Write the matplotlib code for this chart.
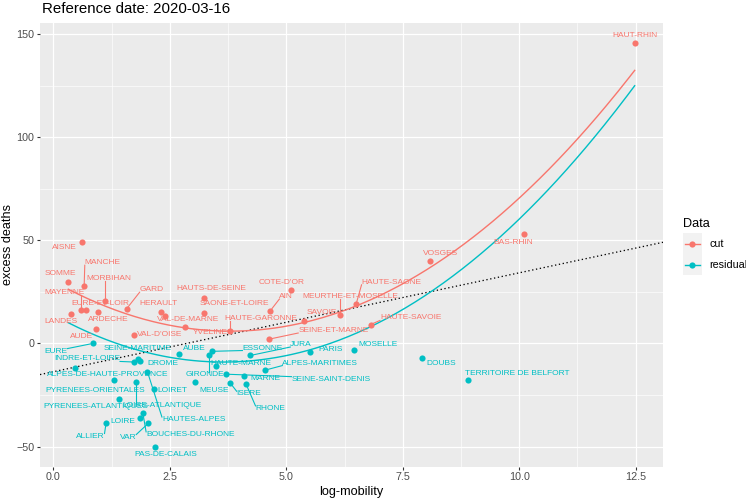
import matplotlib
matplotlib.use("Agg")
import matplotlib.pyplot as plt
import numpy as np
from matplotlib.lines import Line2D
from matplotlib.patches import Rectangle

plt.rcParams['font.family'] = ['Liberation Sans', 'DejaVu Sans']

# ---------------- data ----------------
title = "Reference date: 2020-03-16"
x_label = "log-mobility"
y_label = "excess deaths"
legend_title = "Data"
series_names = ["cut", "residual"]

cut_names = ["AISNE", "SOMME", "MANCHE", "MORBIHAN", "MAYENNE", "GARD", "EURE-ET-LOIR",
             "ARDECHE", "LANDES", "AUDE", "VAL-D'OISE", "HERAULT", "VAL-DE-MARNE", "YVELINES",
             "HAUTE-GARONNE", "HAUTS-DE-SEINE", "SAONE-ET-LOIRE", "COTE-D'OR", "AIN",
             "SEINE-ET-MARNE", "SAVOIE", "MEURTHE-ET-MOSELLE", "HAUTE-SAONE", "HAUTE-SAVOIE",
             "VOSGES", "BAS-RHIN", "HAUT-RHIN"]
cut_x = [0.61, 0.32, 0.66, 1.11, 0.60, 1.57, 0.70, 0.95, 0.38, 0.91, 1.72, 2.32, 2.40, 2.82,
         3.80, 3.24, 3.24, 5.11, 4.66, 4.63, 5.39, 6.16, 6.50, 6.81, 8.08, 10.10, 12.48]
cut_y = [49.1, 30.0, 27.9, 20.8, 16.1, 16.8, 16.1, 15.1, 14.1, 7.1, 4.0, 15.2, 13.2, 8.1,
         6.0, 21.9, 15.0, 25.8, 16.0, 2.1, 11.1, 14.0, 19.2, 9.2, 40.2, 53.1, 145.9]

res_names = ["EURE", "ALPES-DE-HAUTE-PROVENCE", "INDRE-ET-LOIRE", "SEINE-MARITIME", "DROME",
             "AUBE", "PYRENEES-ORIENTALES", "LOIRE-ATLANTIQUE", "HAUTES-ALPES", "LOIRET",
             "PYRENEES-ATLANTIQUES", "ALLIER", "LOIRE", "BOUCHES-DU-RHONE", "VAR",
             "PAS-DE-CALAIS", "MEUSE", "GIRONDE", "ESSONNE", "HAUTE-MARNE", "SEINE-SAINT-DENIS",
             "ISERE", "MARNE", "RHONE", "JURA", "ALPES-MARITIMES", "PARIS", "MOSELLE", "DOUBS",
             "TERRITOIRE DE BELFORT"]
res_x = [0.84, 0.46, 1.74, 1.81, 1.85, 2.69, 1.31, 1.77, 2.02, 2.15, 1.40, 1.13, 1.86, 1.92,
         2.04, 2.19, 3.04, 3.35, 3.41, 3.50, 3.71, 3.79, 4.10, 4.14, 4.23, 4.55, 5.51, 6.45,
         7.92, 8.90]
res_y = [0.0, -11.8, -9.0, -7.7, -8.6, -5.0, -17.8, -18.8, -13.8, -21.9, -26.8, -38.7, -36.0,
         -33.7, -38.7, -50.0, -18.8, -5.8, -3.8, -10.8, -14.9, -19.0, -15.8, -19.9, -5.8,
         -12.9, -3.9, -3.1, -6.9, -17.9]

# quadratic fit coefficients (highest power first)
cut_fit = [1.68, -12.77, 30.26]
res_fit = [1.72, -12.556, 13.915]
# reference straight line: intercept, slope
ref_intercept = -13.7
ref_slope = 4.8

x_ticks = [0.0, 2.5, 5.0, 7.5, 10.0, 12.5]
x_tick_labels = ["0.0", "2.5", "5.0", "7.5", "10.0", "12.5"]
y_ticks = [-50, 0, 50, 100, 150]
y_tick_labels = ["\u221250", "0", "50", "100", "150"]

# ---------------- layout (label placement, data units) ----------------
LABEL_POS = {
    "AISNE": (0.23, 46.6), "SOMME": (0.15, 33.9), "MANCHE": (1.06, 39.2),
    "MORBIHAN": (1.20, 31.5), "MAYENNE": (0.23, 24.8), "GARD": (2.11, 26.1),
    "EURE-ET-LOIR": (1.01, 19.4), "ARDECHE": (1.17, 11.6), "LANDES": (0.17, 10.7),
    "AUDE": (0.60, 3.5), "VAL-D'OISE": (2.28, 4.4), "HERAULT": (2.26, 19.5),
    "VAL-DE-MARNE": (2.90, 11.6), "YVELINES": (3.42, 5.3), "HAUTE-GARONNE": (4.45, 12.1),
    "HAUTS-DE-SEINE": (3.40, 26.6), "SAONE-ET-LOIRE": (3.88, 19.4), "COTE-D'OR": (4.89, 29.5),
    "AIN": (5.00, 22.8), "SEINE-ET-MARNE": (6.01, 6.3), "SAVOIE": (5.76, 15.2),
    "MEURTHE-ET-MOSELLE": (6.38, 22.9), "HAUTE-SAONE": (7.26, 29.7),
    "HAUTE-SAVOIE": (7.67, 12.4), "VOSGES": (8.32, 43.9), "BAS-RHIN": (9.87, 49.1),
    "HAUT-RHIN": (12.49, 149.6),
    "EURE": (0.05, -3.7), "INDRE-ET-LOIRE": (0.72, -7.5), "SEINE-MARITIME": (1.81, -2.6),
    "DROME": (2.35, -9.5), "ALPES-DE-HAUTE-PROVENCE": (1.17, -14.9),
    "PYRENEES-ORIENTALES": (0.90, -22.6), "LOIRET": (2.55, -22.8),
    "PYRENEES-ATLANTIQUES": (0.90, -30.4), "LOIRE-ATLANTIQUE": (2.33, -30.0),
    "HAUTES-ALPES": (3.01, -36.9), "LOIRE": (1.50, -37.8), "ALLIER": (0.79, -44.9),
    "VAR": (1.60, -45.4), "BOUCHES-DU-RHONE": (2.94, -44.1), "PAS-DE-CALAIS": (2.42, -53.8),
    "AUBE": (3.02, -2.2), "ESSONNE": (4.49, -2.2), "GIRONDE": (3.26, -14.9),
    "HAUTE-MARNE": (4.02, -9.5), "JURA": (5.32, -0.5), "ALPES-MARITIMES": (5.73, -9.5),
    "MEUSE": (3.44, -22.8), "MARNE": (4.55, -17.1), "SEINE-SAINT-DENIS": (5.96, -17.3),
    "ISERE": (4.20, -24.4), "RHONE": (4.66, -31.5), "PARIS": (5.94, -2.9),
    "MOSELLE": (6.96, -0.5), "DOUBS": (8.33, -9.8), "TERRITOIRE DE BELFORT": (9.95, -14.4),
}

RED = "#F8766D"
CYAN = "#00BFC4"
W, H = 746, 500

fig = plt.figure(figsize=(W / 72, H / 72), dpi=72)
fig.patch.set_facecolor("white")
px_l, px_r, px_t, px_b = 40, 663, 22.7, 466.7
ax = fig.add_axes([px_l / W, 1 - px_b / H, (px_r - px_l) / W, (px_b - px_t) / H])
ax.set_facecolor("#EBEBEB")
for s in ax.spines.values():
    s.set_visible(False)
ax.set_axisbelow(True)

all_x = np.array(cut_x + res_x)
all_y = np.array(cut_y + res_y)
xr = all_x.max() - all_x.min()
yr = all_y.max() - all_y.min()
ax.set_xlim(all_x.min() - 0.05 * xr, all_x.max() + 0.05 * xr)
ax.set_ylim(all_y.min() - 0.05 * yr, all_y.max() + 0.05 * yr)

ax.set_xticks(x_ticks)
ax.set_xticklabels(x_tick_labels)
ax.set_yticks(y_ticks)
ax.set_yticklabels(y_tick_labels)
ax.set_xticks([(a + b) / 2 for a, b in zip(x_ticks[:-1], x_ticks[1:])], minor=True)
ax.set_yticks([(a + b) / 2 for a, b in zip(y_ticks[:-1], y_ticks[1:])], minor=True)
ax.grid(which="major", color="white", lw=1.2)
ax.grid(which="minor", color="white", lw=0.6)
ax.tick_params(which="minor", length=0)
ax.tick_params(which="major", length=3.2, width=1.1, color="#333333",
               labelcolor="#4D4D4D", labelsize=10.8, pad=2.5)

# reference dotted line
ax.axline((0, ref_intercept), slope=ref_slope, color="black", lw=1.3,
          ls=(0, (1, 2)), zorder=2)

# fitted curves over the full data range
xs = np.linspace(all_x.min(), all_x.max(), 300)
ax.plot(xs, np.polyval(cut_fit, xs), color=RED, lw=1.4, zorder=2.5)
ax.plot(xs, np.polyval(res_fit, xs), color=CYAN, lw=1.4, zorder=2.5)

# points
ax.scatter(cut_x, cut_y, s=38, color=RED, linewidths=0, zorder=3)
ax.scatter(res_x, res_y, s=38, color=CYAN, linewidths=0, zorder=3)

# labels
texts = []
for names, xv, yv, col in [(cut_names, cut_x, cut_y, RED), (res_names, res_x, res_y, CYAN)]:
    for n, x, y in zip(names, xv, yv):
        if not n:
            continue
        lx, ly = LABEL_POS.get(n, (x, y))
        t = ax.text(lx, ly, n, color=col, fontsize=8.4, ha="center", va="center", zorder=5)
        texts.append((t, x, y, col))

fig.canvas.draw()
renderer = fig.canvas.get_renderer()
inv = ax.transData.inverted()
for t, x, y, col in texts:
    bb = t.get_window_extent(renderer)
    px, py = ax.transData.transform((x, y))
    cx = min(max(px, bb.x0), bb.x1)
    cy = min(max(py, bb.y0 + 1), bb.y1 - 1)
    d = np.hypot(cx - px, cy - py)
    if d > 9:
        f = 2.5 / d
        sx, sy = px + (cx - px) * f, py + (cy - py) * f
        p0 = inv.transform((sx, sy))
        p1 = inv.transform((cx, cy))
        ax.add_line(Line2D([p0[0], p1[0]], [p0[1], p1[1]], color=col, lw=1.1, zorder=4))

# titles
fig.text(42 / W, 1 - 12.7 / H, title, fontsize=15, color="black", ha="left", va="baseline")
fig.text((px_l + px_r) / 2 / W, 1 - 491.7 / H, x_label, fontsize=12.6, ha="center", va="center")
fig.text(8.5 / W, 1 - (px_t + px_b) / 2 / H, y_label, fontsize=12.6, ha="center", va="center",
         rotation=90)

# legend
fig.text(683 / W, 1 - 226.7 / H, legend_title, fontsize=12.6, ha="left", va="baseline")
key_top = 233.3
key_h = 20.8
for i, (name, col) in enumerate(zip(series_names, [RED, CYAN])):
    y0 = key_top + i * key_h
    fig.patches.append(Rectangle((682.7 / W, 1 - (y0 + key_h) / H), 19 / W, key_h / H,
                                 transform=fig.transFigure, facecolor="#F2F2F2",
                                 edgecolor="none"))
    yc = 1 - (y0 + key_h / 2) / H
    fig.lines.append(Line2D([684.5 / W, 700 / W], [yc, yc], transform=fig.transFigure,
                            color=col, lw=1.4))
    fig.lines.append(Line2D([692.2 / W], [yc], transform=fig.transFigure, color=col,
                            marker="o", markersize=6.2, markeredgewidth=0))
    fig.text(709 / W, yc, name, fontsize=10.8, ha="left", va="center")

fig.savefig("out.png", dpi=72)
